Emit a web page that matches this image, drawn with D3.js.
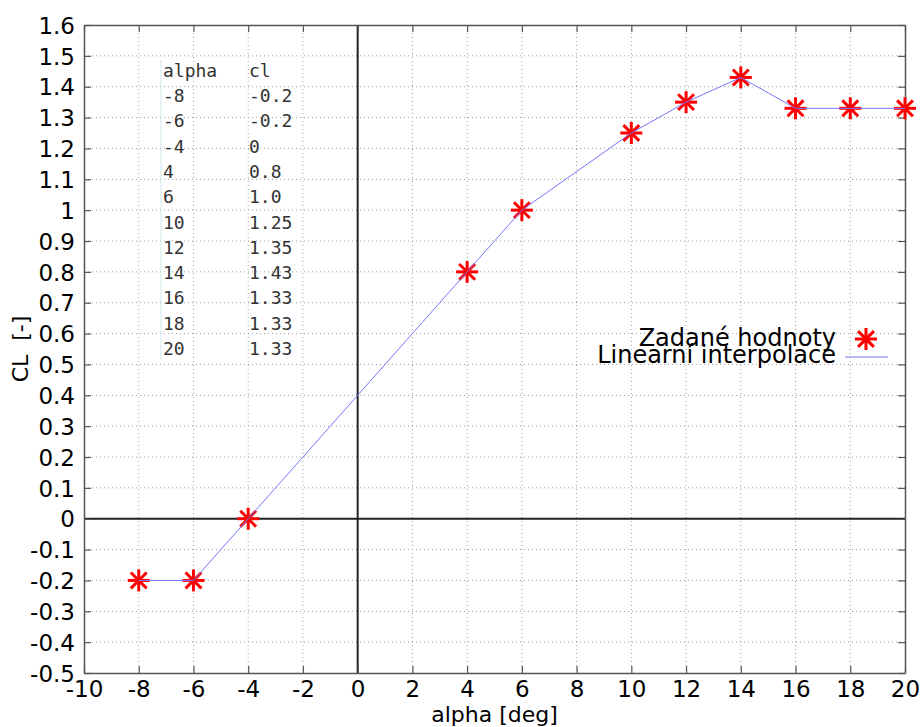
<!DOCTYPE html>
<html>
<head>
<meta charset="utf-8">
<script src="https://cdn.jsdelivr.net/npm/d3@7"></script>
<style>
  html, body { margin: 0; padding: 0; background: #fff; }
  svg { display: block; }
</style>
</head>
<body>
<svg id="chart" width="921" height="727"></svg>
<script>
// Lift coefficient vs. angle of attack
const alpha = [-8, -6, -4, 4, 6, 10, 12, 14, 16, 18, 20];
const cl = [-0.2, -0.2, 0, 0.8, 1.0, 1.25, 1.35, 1.43, 1.33, 1.33, 1.33];
const clLabels = ["-0.2", "-0.2", "0", "0.8", "1.0", "1.25", "1.35", "1.43", "1.33", "1.33", "1.33"];
const xTicks = [-10, -8, -6, -4, -2, 0, 2, 4, 6, 8, 10, 12, 14, 16, 18, 20];
const yTicks = [-0.5, -0.4, -0.3, -0.2, -0.1, 0, 0.1, 0.2, 0.3, 0.4, 0.5, 0.6, 0.7, 0.8, 0.9, 1, 1.1, 1.2, 1.3, 1.4, 1.5, 1.6];
const legendNames = ["Zadané hodnoty", "Linearní interpolace"];
const tableHeader = ["alpha", "cl"];

const svg = d3.select("#chart");
const m = { left: 84, right: 16, top: 25, bottom: 54 };
const W = 921, H = 727;

const x = d3.scaleLinear().domain([-10, 20]).range([m.left, W - m.right]);
const y = d3.scaleLinear().domain([-0.5, 1.6]).range([H - m.bottom, m.top]);

// plain hyphen-minus labels
const fmt = v => (Math.abs(v) < 1e-9 ? "0" : String(+v.toFixed(1)));

// dotted grid
const grid = svg.append("g");
grid.selectAll("line.gx").data(xTicks.slice(1, -1)).join("line")
  .attr("x1", d => x(d)).attr("x2", d => x(d))
  .attr("y1", y.range()[1]).attr("y2", y.range()[0])
  .attr("stroke", "#a0a0a0").attr("stroke-width", 1).attr("stroke-dasharray", "1,3");
grid.selectAll("line.gy").data(yTicks.slice(1, -1)).join("line")
  .attr("y1", d => y(d)).attr("y2", d => y(d))
  .attr("x1", x.range()[0]).attr("x2", x.range()[1])
  .attr("stroke", "#a0a0a0").attr("stroke-width", 1).attr("stroke-dasharray", "1,3");

// zero axes
svg.append("line").attr("x1", x(0)).attr("x2", x(0)).attr("y1", y(-0.5)).attr("y2", y(1.6))
  .attr("stroke", "#222").attr("stroke-width", 2);
svg.append("line").attr("x1", x(-10)).attr("x2", x(20)).attr("y1", y(0)).attr("y2", y(0))
  .attr("stroke", "#222").attr("stroke-width", 2);

// axes with mirrored ticks
const tickFont = "'DejaVu Sans', sans-serif";
const axB = svg.append("g").attr("transform", `translate(0,${y(-0.5)})`)
  .call(d3.axisBottom(x).tickValues(xTicks).tickFormat(fmt).tickSizeInner(-7).tickSizeOuter(0).tickPadding(11));
const axT = svg.append("g").attr("transform", `translate(0,${y(1.6)})`)
  .call(d3.axisTop(x).tickValues(xTicks).tickFormat("").tickSizeInner(-7).tickSizeOuter(0));
const axL = svg.append("g").attr("transform", `translate(${x(-10)},0)`)
  .call(d3.axisLeft(y).tickValues(yTicks).tickFormat(fmt).tickSizeInner(-7).tickSizeOuter(0).tickPadding(9));
const axR = svg.append("g").attr("transform", `translate(${x(20)},0)`)
  .call(d3.axisRight(y).tickValues(yTicks).tickFormat("").tickSizeInner(-7).tickSizeOuter(0));
[axB, axT, axL, axR].forEach(g => {
  g.select(".domain").attr("stroke", "#555").attr("stroke-width", 1.5);
  g.selectAll(".tick line").attr("stroke", "#555").attr("stroke-width", 1.2);
  g.selectAll(".tick text").attr("font-family", tickFont).attr("font-size", 23).attr("fill", "#000");
});
axB.selectAll(".tick text").attr("dy", "0.55em");
axL.selectAll(".tick text").attr("dy", "0.36em");

// markers (asterisks)
function star(g, cx, cy, r) {
  const d = r * 0.72;
  const segs = [[-r, 0, r, 0], [0, -r, 0, r], [-d, -d, d, d], [-d, d, d, -d]];
  segs.forEach(s => g.append("line")
    .attr("x1", cx + s[0]).attr("y1", cy + s[1]).attr("x2", cx + s[2]).attr("y2", cy + s[3])
    .attr("stroke", "#ff0000").attr("stroke-width", 3));
}
const marks = svg.append("g");
alpha.forEach((a, i) => star(marks, x(a), y(cl[i]), 11));

// interpolation line on top
svg.append("path").datum(alpha.map((a, i) => [a, cl[i]]))
  .attr("d", d3.line().x(d => x(d[0])).y(d => y(d[1])))
  .attr("fill", "none").attr("stroke", "#7777ff").attr("stroke-width", 1);

// data table
const tbl = svg.append("g").attr("font-family", "'DejaVu Sans Mono', monospace").attr("font-size", 18).attr("fill", "#333");
tbl.append("line").attr("x1", 161).attr("x2", 161).attr("y1", 60).attr("y2", 360)
  .attr("stroke", "#cfe9e9").attr("stroke-width", 1);
const rowY = i => 76.7 + i * 25.3;
tbl.append("text").attr("x", 163).attr("y", rowY(0)).text(tableHeader[0]);
tbl.append("text").attr("x", 249).attr("y", rowY(0)).text(tableHeader[1]);
alpha.forEach((a, i) => {
  tbl.append("text").attr("x", 163).attr("y", rowY(i + 1)).text(String(a));
  tbl.append("text").attr("x", 249).attr("y", rowY(i + 1)).text(clLabels[i]);
});

// legend
const lg = svg.append("g").attr("font-family", "'DejaVu Sans', sans-serif").attr("font-size", 24).attr("fill", "#000");
lg.append("text").attr("x", 836).attr("y", 346).attr("text-anchor", "end").text(legendNames[0]);
lg.append("text").attr("x", 836).attr("y", 363).attr("text-anchor", "end").text(legendNames[1]);
star(lg, 866, 339, 11);
lg.append("line").attr("x1", 845).attr("x2", 888).attr("y1", 357).attr("y2", 357)
  .attr("stroke", "#7777ff").attr("stroke-width", 1);

// axis titles
svg.append("text").attr("x", (x(-10) + x(20)) / 2).attr("y", 722).attr("text-anchor", "middle")
  .attr("font-family", "'DejaVu Sans', sans-serif").attr("font-size", 22).text("alpha [deg]");
svg.append("text").attr("transform", `translate(28,${(y(-0.5) + y(1.6)) / 2}) rotate(-90)`)
  .attr("text-anchor", "middle")
  .attr("font-family", "'DejaVu Sans', sans-serif").attr("font-size", 22).attr("xml:space", "preserve").text("CL  [-]");
</script>
</body>
</html>
